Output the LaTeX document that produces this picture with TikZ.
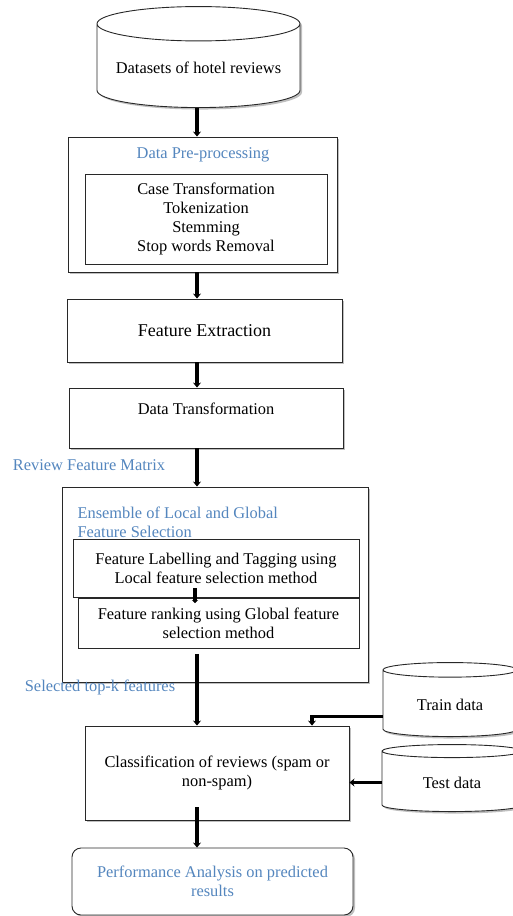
\documentclass[tikz,border=0pt]{standalone}
\usepackage{fontspec}
\setmainfont{Liberation Serif}
\usepackage{tikz}
\usetikzlibrary{shapes.geometric, arrows.meta, positioning, calc, shadows}
\definecolor{titleblue}{RGB}{84,134,190}
\definecolor{edgegray}{RGB}{40,40,40}

\tikzset{
  procbox/.style={draw=edgegray, line width=0.9pt, fill=white,
                  drop shadow={shadow xshift=2pt, shadow yshift=-2pt, opacity=0.5}},
  innerbox/.style={draw=edgegray, line width=0.9pt, fill=white},
  store/.style={cylinder, shape border rotate=90, draw=edgegray, line width=0.9pt,
                fill=white, aspect=0.2, anchor=south,
                drop shadow={shadow xshift=2pt, shadow yshift=-2pt, opacity=0.5}},
  flow/.style={line width=3.2pt, -{Stealth[length=5pt, width=8pt]}},
  note/.style={text=titleblue},
}

\begin{document}
\begin{tikzpicture}[x=1pt, y=-1pt, font=\fontsize{16.4pt}{19pt}\selectfont]
\useasboundingbox (0,0) rectangle (512,916);

% arrow column
\coordinate (col) at (197,0);

% input data
\node[store, minimum width=203pt, minimum height=101pt] (data) at (198.5,108)
  {Datasets of hotel reviews};

% pre-processing block
\node[procbox, minimum width=269pt, minimum height=135pt] (prep) at (202.5,204.5) {};
\node[note] (preptitle) at (203,155) {Data Pre-processing};
\node[innerbox, minimum width=242pt, minimum height=90pt, align=center] (steps) at (206,219)
  {Case Transformation\\Tokenization\\Stemming\\Stop words Removal};

% extraction and transformation
\node[procbox, minimum width=275pt, minimum height=63pt,
      font=\fontsize{18pt}{21pt}\selectfont] (fext) at (204.5,330.5) {Feature Extraction};
\node[procbox, minimum width=274pt, minimum height=60pt] (dtrans) at (206,418) {};
\node (dtranstext) at (206,409) {Data Transformation};
\node[note] (matrix) at (89,465) {Review Feature Matrix};

% ensemble feature selection
\node[procbox, minimum width=306pt, minimum height=195pt] (ens) at (215,584.5) {};
\node[note, anchor=west, align=left] (enstitle) at (74,522)
  {Ensemble of Local and Global\\Feature Selection};
\node[innerbox, minimum width=286pt, minimum height=58pt, align=center] (flab) at (216,568)
  {Feature Labelling and Tagging using\\Local feature selection method};
\node[innerbox, minimum width=281pt, minimum height=50pt, align=center] (frank) at (218.5,623.5)
  {Feature ranking using Global feature\\selection method};
\node[note] (topk) at (100,687) {Selected top-k features};

% classification
\node[procbox, minimum width=264pt, minimum height=94pt, align=center] (cls) at (217,773)
  {Classification of reviews (spam or\\non-spam)};
\node[store, minimum width=134pt, minimum height=74pt] (train) at (450,737) {Train data};
\node[store, minimum width=140pt, minimum height=67pt] (test) at (452,812) {Test data};

% result
\node[procbox, rounded corners=9pt, minimum width=281pt, minimum height=67pt,
      align=center, note] (perf) at (212.5,881.5)
  {Performance Analysis on predicted\\results};

% connectors
\draw[flow] (data.south -| col) -- (prep.north -| col);
\draw[flow] (prep.south -| col) -- (fext.north -| col);
\draw[flow] (fext.south -| col) -- (dtrans.north -| col);
\draw[flow] (dtrans.south -| col) -- (ens.north -| col);
\draw[flow, -{Stealth[length=3pt, width=6pt]}] ([xshift=-2pt, yshift=9pt]flab.south -| col) -- ([xshift=-2pt, yshift=-5pt]frank.north -| col);
\draw[flow] ([yshift=-5pt]frank.south -| col) -- (cls.north -| col);
\draw[flow] ([yshift=-12pt]train.west) -| ([xshift=95pt]cls.north);
\draw[flow] (test.west) -- (test.west -| cls.east);
\draw[flow] ([yshift=13pt]cls.south -| col) -- (perf.north -| col);

\end{tikzpicture}
\end{document}
